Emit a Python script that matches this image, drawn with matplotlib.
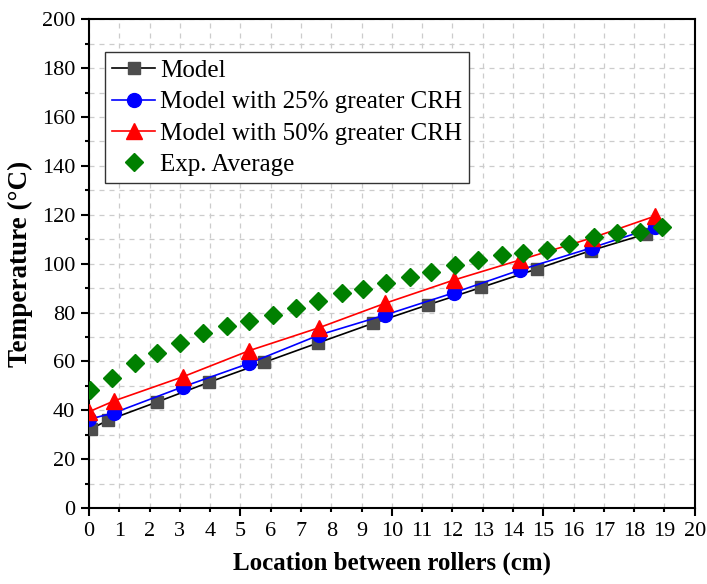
import matplotlib
matplotlib.use("Agg")
from matplotlib import pyplot as plt
from matplotlib.ticker import MultipleLocator, FuncFormatter

plt.rcParams["font.family"] = ["Liberation Serif", "DejaVu Serif"]

# model (squares)
model_x = [0.08, 0.64, 2.23, 3.97, 5.78, 7.57, 9.38, 11.18, 12.96, 14.78, 16.56, 18.38]
model_y = [32.5, 36.0, 43.3, 51.5, 59.6, 67.6, 75.6, 83.1, 90.3, 97.8, 105.3, 112.1]

# model with 25% greater CRH (circles)
crh25_x = [0.0, 0.84, 3.1, 5.29, 7.6, 9.78, 12.05, 14.23, 16.6, 18.7]
crh25_y = [36.3, 39.0, 49.6, 59.2, 70.8, 79.0, 88.1, 97.4, 106.5, 115.0]

# model with 50% greater CRH (triangles)
crh50_x = [0.0, 0.84, 3.1, 5.29, 7.6, 9.78, 12.05, 14.23, 16.6, 18.7]
crh50_y = [39.4, 43.9, 53.7, 64.4, 73.8, 83.8, 93.3, 101.5, 110.5, 119.5]

# experimental average (diamonds)
exp_x = [0.02, 0.76, 1.51, 2.26, 3.0, 3.75, 4.54, 5.29, 6.06, 6.83, 7.57, 8.34, 9.05,
         9.82, 10.6, 11.3, 12.1, 12.86, 13.63, 14.34, 15.13, 15.86, 16.66, 17.43, 18.2, 18.91]
exp_y = [48.3, 53.1, 59.2, 63.3, 67.7, 71.5, 74.5, 76.7, 79.0, 81.7, 84.6, 87.9, 89.5,
         92.0, 94.7, 96.7, 99.4, 101.5, 103.5, 104.2, 105.6, 108.0, 110.8, 112.4, 113.1, 115.1]

fig = plt.figure(figsize=(7.07, 5.84), dpi=100)
ax = fig.add_axes([0.1259, 0.1301, 0.8567, 0.8369])

ax.plot(model_x, model_y, "-", color="black", lw=1.2, marker="s", ms=9,
        mfc="#4d4d4d", mec="#4d4d4d", label="Model", zorder=3)
ax.plot(crh25_x, crh25_y, "-", color="blue", lw=1.2, marker="o", ms=10,
        mfc="blue", mec="blue", label="Model with 25% greater CRH", zorder=3)
ax.plot(crh50_x, crh50_y, "-", color="red", lw=1.2, marker="^", ms=11,
        mfc="red", mec="red", label="Model with 50% greater CRH", zorder=3)
ax.plot(exp_x, exp_y, "D", color="green", ms=9.5, ls="none",
        label="Exp. Average", zorder=4)

ax.set_xlim(0, 20)
ax.set_ylim(0, 200)

ax.xaxis.set_major_locator(MultipleLocator(5))
ax.xaxis.set_minor_locator(MultipleLocator(1))
ax.xaxis.set_minor_formatter(FuncFormatter(lambda v, p: "%d" % round(v)))
ax.yaxis.set_major_locator(MultipleLocator(20))
ax.yaxis.set_minor_locator(MultipleLocator(10))

ax.tick_params(which="major", direction="out", length=6, width=1.5, labelsize=16, pad=4)
ax.tick_params(which="minor", direction="out", length=3, width=1.5, labelsize=16, pad=7)
ax.tick_params(axis="y", which="minor", labelleft=False)
ax.tick_params(top=False, right=False, which="both")

for s in ax.spines.values():
    s.set_linewidth(1.5)

ax.grid(True, which="both", color="#cccccc", ls=(0, (4, 4)), lw=0.9)
ax.set_axisbelow(True)

ax.set_xlabel("Location between rollers (cm)", fontsize=18, fontweight="bold")
ax.xaxis.set_label_coords(0.5, -0.09)
ax.set_ylabel("Temperature (\u00b0C)", fontsize=19.5, fontweight="bold")
ax.yaxis.set_label_coords(-0.093, 0.5)

leg = ax.legend(loc="upper left", bbox_to_anchor=(0.026, 0.933), fontsize=18,
                frameon=True, fancybox=False, framealpha=1, edgecolor="#333333",
                borderpad=0.3, handlelength=1.7, handletextpad=0.2,
                labelspacing=0.35, borderaxespad=0)
leg.get_frame().set_linewidth(1.0)

fig.savefig("out.png", dpi=100)
